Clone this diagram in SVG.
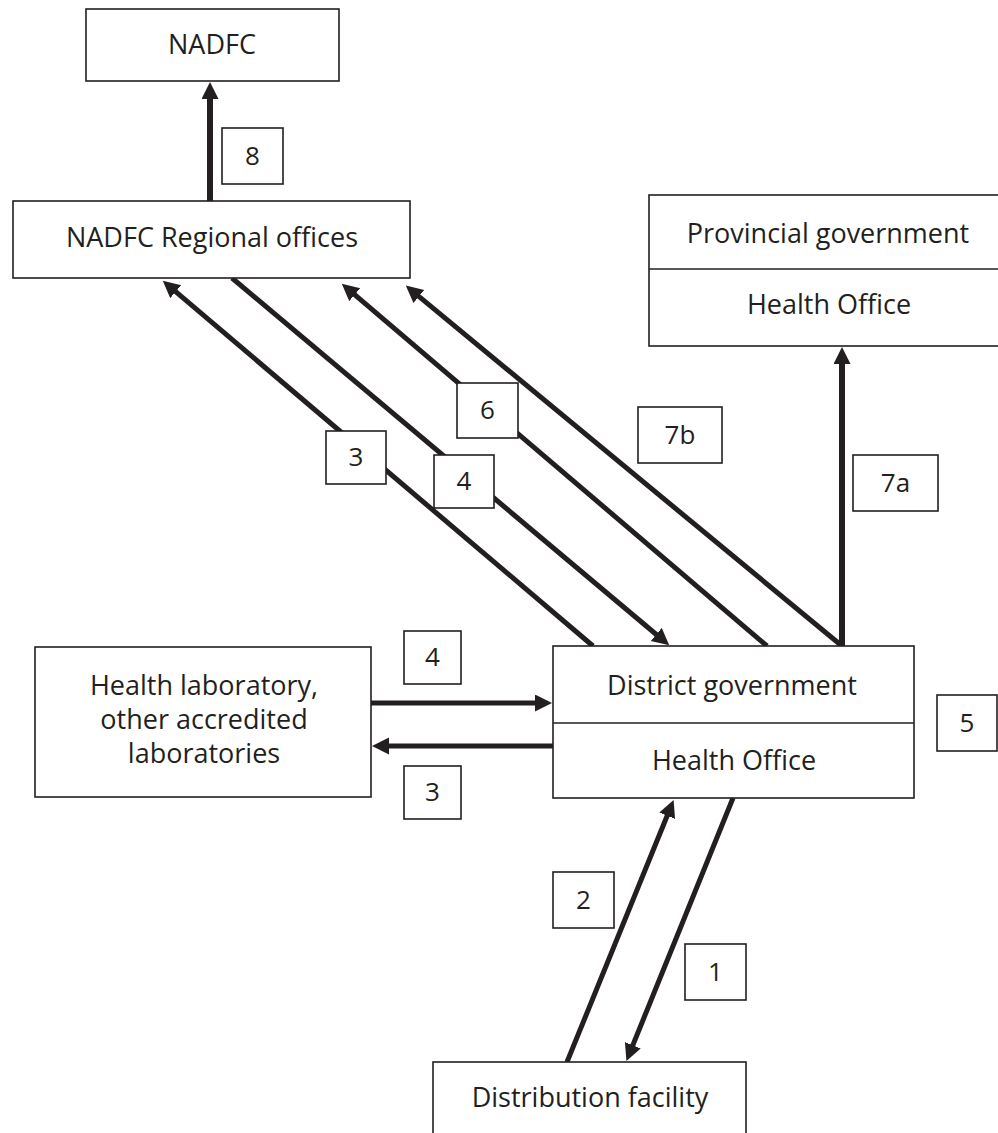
<svg xmlns="http://www.w3.org/2000/svg" width="998" height="1133" viewBox="0 0 998 1133">
<style>
.box{fill:#fff;stroke:#231f20;stroke-width:1.6}
.t{font-family:"Open Sans","Noto Sans",sans-serif;font-size:27px;fill:#231f20;text-anchor:middle}
.lt{font-family:"Open Sans","Noto Sans",sans-serif;font-size:26px;fill:#231f20;text-anchor:middle}
.c{stroke:#231f20;stroke-width:5;fill:none}
.cv{stroke:#231f20;stroke-width:6;fill:none}
</style>
<defs>
<marker id="ah" markerUnits="userSpaceOnUse" markerWidth="18" markerHeight="18" viewBox="0 0 18 18" refX="4" refY="8.5" orient="auto">
<path d="M0,0 L17,8.5 L0,17 z" fill="#231f20"/>
</marker>
</defs>
<rect width="998" height="1133" fill="#fff"/>
<g id="connectors">
<line class="cv" x1="210" y1="201" x2="210" y2="95" marker-end="url(#ah)"/>
<line class="c" x1="593" y1="646" x2="172.7" y2="289.1" marker-end="url(#ah)"/>
<line class="c" x1="232" y1="278" x2="659.3" y2="637" marker-end="url(#ah)"/>
<line class="c" x1="767" y1="646" x2="351.7" y2="292.1" marker-end="url(#ah)"/>
<line class="c" x1="842" y1="646" x2="415.8" y2="293.9" marker-end="url(#ah)"/>
<line class="cv" x1="842" y1="646" x2="842" y2="360" marker-end="url(#ah)"/>
<line class="c" x1="371" y1="703" x2="539" y2="703" marker-end="url(#ah)"/>
<line class="c" x1="553" y1="746" x2="385" y2="746" marker-end="url(#ah)"/>
<line class="c" x1="567" y1="1062" x2="668.7" y2="812" marker-end="url(#ah)"/>
<line class="c" x1="733" y1="798" x2="631.3" y2="1049" marker-end="url(#ah)"/>
</g>
<g id="nadfc">
<rect class="box" x="86" y="9" width="253" height="72"/>
<text class="t" x="212" y="54">NADFC</text>
</g>
<g id="regional">
<rect class="box" x="13" y="201" width="397" height="77"/>
<text class="t" x="212" y="247">NADFC Regional offices</text>
</g>
<g id="provincial">
<rect class="box" x="649" y="195" width="360" height="151"/>
<line x1="649" y1="269" x2="1009" y2="269" stroke="#231f20" stroke-width="1.6"/>
<text class="t" x="828" y="243">Provincial government</text>
<text class="t" x="829" y="314">Health Office</text>
</g>
<g id="district">
<rect class="box" x="553" y="646" width="361" height="152"/>
<line x1="553" y1="723" x2="914" y2="723" stroke="#231f20" stroke-width="1.6"/>
<text class="t" x="732" y="695">District government</text>
<text class="t" x="734" y="770">Health Office</text>
</g>
<g id="laboratory">
<rect class="box" x="35" y="647" width="336" height="150"/>
<text class="t" x="204" y="695">Health laboratory,</text>
<text class="t" x="204" y="729">other accredited</text>
<text class="t" x="204" y="763">laboratories</text>
</g>
<g id="distribution">
<rect class="box" x="433" y="1062" width="313" height="100"/>
<text class="t" x="590" y="1107">Distribution facility</text>
</g>
<g id="labels">
<g id="l8"><rect class="box" x="222" y="128" width="61" height="56"/><text class="lt" x="252.5" y="165">8</text></g>
<g id="l3a"><rect class="box" x="326" y="431" width="60" height="53"/><text class="lt" x="356" y="466">3</text></g>
<g id="l4a"><rect class="box" x="434" y="455" width="60" height="53"/><text class="lt" x="464" y="490">4</text></g>
<g id="l6"><rect class="box" x="457" y="383" width="61" height="55"/><text class="lt" x="487.5" y="419">6</text></g>
<g id="l7b"><rect class="box" x="638" y="407" width="84" height="56"/><text class="lt" x="680" y="444">7b</text></g>
<g id="l7a"><rect class="box" x="853" y="455" width="85" height="56"/><text class="lt" x="895.5" y="492">7a</text></g>
<g id="l4b"><rect class="box" x="404" y="631" width="57" height="53"/><text class="lt" x="432.5" y="666">4</text></g>
<g id="l3b"><rect class="box" x="404" y="766" width="57" height="53"/><text class="lt" x="432.5" y="801">3</text></g>
<g id="l5"><rect class="box" x="937" y="695" width="60" height="56"/><text class="lt" x="967" y="732">5</text></g>
<g id="l2"><rect class="box" x="553" y="872" width="61" height="56"/><text class="lt" x="583.5" y="909">2</text></g>
<g id="l1"><rect class="box" x="685" y="944" width="61" height="56"/><text class="lt" x="715.5" y="981">1</text></g>
</g>
</svg>
